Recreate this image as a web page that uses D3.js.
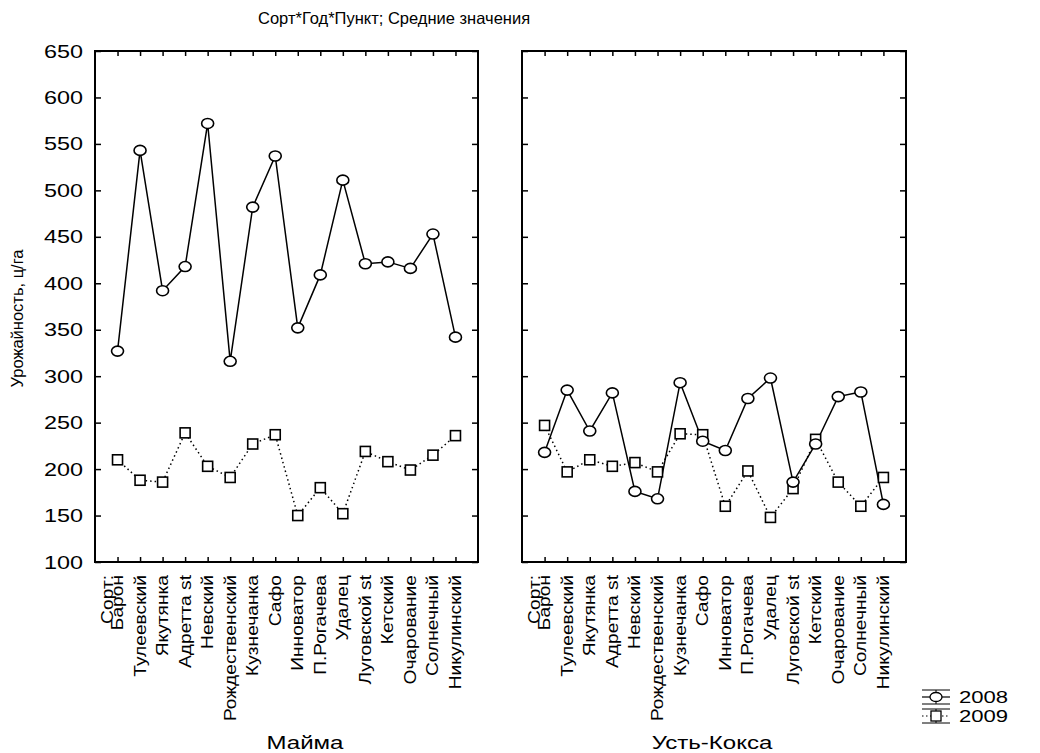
<!DOCTYPE html>
<html>
<head>
<meta charset="utf-8">
<script src="https://cdn.jsdelivr.net/npm/d3@7"></script>
<style>
  body { margin: 0; background: #fff; }
  svg { font-family: "Liberation Sans", Arial, sans-serif; }
</style>
</head>
<body>
<svg width="1040" height="753"></svg>
<script>
// categories (sorts)
var sorts = ["Барон", "Тулеевский", "Якутянка", "Адретта st", "Невский", "Рождественский",
  "Кузнечанка", "Сафо", "Инноватор", "П.Рогачева", "Удалец", "Луговской st",
  "Кетский", "Очарование", "Солнечный", "Никулинский"];

var places = ["Майма", "Усть-Кокса"];
var years = ["2008", "2009"];

// means, ц/га
var mayma2008 = [327, 543, 392, 418, 572, 316, 482, 537, 352, 409, 511, 421, 423, 416, 453, 342];
var mayma2009 = [210, 188, 186, 239, 203, 191, 227, 237, 150, 180, 152, 219, 208, 199, 215, 236];
var kocks2008 = [218, 285, 241, 282, 176, 168, 293, 230, 220, 276, 298, 186, 227, 278, 283, 162];
var kocks2009 = [247, 197, 210, 203, 207, 197, 238, 237, 160, 198, 148, 179, 232, 186, 160, 191];

var yTicks = [100, 150, 200, 250, 300, 350, 400, 450, 500, 550, 600, 650];

var svg = d3.select("svg");

var plotTop = 51, plotBottom = 562;
var panels = [
  {name: places[0], x0: 95, x1: 478, s2008: mayma2008, s2009: mayma2009, titleX: 305},
  {name: places[1], x0: 522, x1: 906, s2008: kocks2008, s2009: kocks2009, titleX: 712}
];

var y = d3.scaleLinear().domain([100, 650]).range([plotBottom, plotTop]);

svg.append("text")
    .attr("x", 258)
    .attr("y", 24)
    .attr("font-size", 16.5)
    .text("Сорт*Год*Пункт; Средние значения");

svg.append("text")
    .attr("transform", "translate(23," + ((plotTop + plotBottom) / 2 + 12) + ") rotate(-90)")
    .attr("text-anchor", "middle")
    .attr("font-size", 16.5)
    .text("Урожайность, ц/га");

var line = d3.line();

panels.forEach(function(p, pi) {
  var x = d3.scalePoint().domain(sorts).range([p.x0, p.x1]).padding(1);
  var g = svg.append("g");

  // ticks, inward on all four sides
  g.append("g").attr("transform", "translate(" + p.x0 + ",0)")
      .call(d3.axisRight(y).tickValues(yTicks).tickSize(6).tickFormat(""))
      .call(function(a) { a.select(".domain").remove(); });
  g.append("g").attr("transform", "translate(" + p.x1 + ",0)")
      .call(d3.axisLeft(y).tickValues(yTicks).tickSize(6).tickFormat(""))
      .call(function(a) { a.select(".domain").remove(); });
  g.append("g").attr("transform", "translate(0," + plotTop + ")")
      .call(d3.axisBottom(x).tickSize(5).tickFormat(""))
      .call(function(a) { a.select(".domain").remove(); });
  g.append("g").attr("transform", "translate(0," + plotBottom + ")")
      .call(d3.axisTop(x).tickSize(5).tickFormat(""))
      .call(function(a) { a.select(".domain").remove(); });
  g.selectAll(".tick line").attr("stroke", "#000").attr("stroke-width", 1.5);

  g.append("rect")
      .attr("x", p.x0).attr("y", plotTop)
      .attr("width", p.x1 - p.x0).attr("height", plotBottom - plotTop)
      .attr("fill", "none").attr("stroke", "#000").attr("stroke-width", 2);

  if (pi === 0) {
    g.selectAll(".ylab").data(yTicks).enter().append("text")
        .attr("transform", function(d) { return "translate(" + (p.x0 - 12) + "," + (y(d) + 6.5) + ") scale(1.3,1)"; })
        .attr("text-anchor", "end")
        .attr("font-size", 18)
        .text(function(d) { return d; });
  }

  // category labels
  g.selectAll(".xlab").data(sorts).enter().append("text")
      .attr("transform", function(d) { return "translate(" + (x(d) + 5.5) + "," + (plotBottom + 13) + ") rotate(-90) scale(1.2,1)"; })
      .attr("text-anchor", "end")
      .attr("font-size", 16)
      .text(function(d) { return d; });
  g.append("text")
      .attr("transform", "translate(" + (x(sorts[0]) - 4.5) + "," + (plotBottom + 13) + ") rotate(-90) scale(1.2,1)")
      .attr("text-anchor", "end")
      .attr("font-size", 16)
      .text("Сорт:");

  g.append("text")
      .attr("transform", "translate(" + p.titleX + ",749) scale(1.3,1)")
      .attr("text-anchor", "middle")
      .attr("font-size", 18.5)
      .text(p.name);

  // 2009 dotted with squares
  g.append("path")
      .attr("d", line(sorts.map(function(s, i) { return [x(s), y(p.s2009[i])]; })))
      .attr("fill", "none").attr("stroke", "#000").attr("stroke-width", 1.5)
      .attr("stroke-dasharray", "1.5,3");
  // 2008 solid with circles
  g.append("path")
      .attr("d", line(sorts.map(function(s, i) { return [x(s), y(p.s2008[i])]; })))
      .attr("fill", "none").attr("stroke", "#000").attr("stroke-width", 1.5);

  g.selectAll(".sq").data(p.s2009).enter().append("rect")
      .attr("x", function(d, i) { return x(sorts[i]) - 5; })
      .attr("y", function(d) { return y(d) - 5; })
      .attr("width", 10).attr("height", 10)
      .attr("fill", "#fff").attr("stroke", "#000").attr("stroke-width", 1.6);
  g.selectAll(".ci").data(p.s2008).enter().append("ellipse")
      .attr("cx", function(d, i) { return x(sorts[i]); })
      .attr("cy", function(d) { return y(d); })
      .attr("rx", 6).attr("ry", 5)
      .attr("fill", "#fff").attr("stroke", "#000").attr("stroke-width", 1.6);
});

// legend
var lg = svg.append("g").attr("transform", "translate(922,690)");
years.forEach(function(yr, i) {
  var yy = i * 19;
  var cy = yy + 7;
  lg.append("line").attr("x1", 0).attr("x2", 28).attr("y1", yy).attr("y2", yy)
      .attr("stroke", "#000").attr("stroke-width", 1);
  lg.append("line").attr("x1", 0).attr("x2", 28).attr("y1", yy + 14).attr("y2", yy + 14)
      .attr("stroke", "#000").attr("stroke-width", 1);
  lg.append("line").attr("x1", 14).attr("x2", 14).attr("y1", yy).attr("y2", yy + 14)
      .attr("stroke", "#000").attr("stroke-width", 1);
  lg.append("line").attr("x1", 0).attr("x2", 28).attr("y1", cy).attr("y2", cy)
      .attr("stroke", "#000").attr("stroke-width", 1.2)
      .attr("stroke-dasharray", i === 0 ? null : "1.5,2.5");
  if (i === 0) {
    lg.append("ellipse").attr("cx", 14).attr("cy", cy).attr("rx", 6).attr("ry", 4.5)
        .attr("fill", "#fff").attr("stroke", "#000").attr("stroke-width", 1.3);
  } else {
    lg.append("rect").attr("x", 9).attr("y", cy - 5).attr("width", 10).attr("height", 10)
        .attr("fill", "#fff").attr("stroke", "#000").attr("stroke-width", 1.3);
  }
  lg.append("text").attr("transform", "translate(37," + (cy + 6) + ") scale(1.3,1)")
      .attr("font-size", 17).text(yr);
});
</script>
</body>
</html>
